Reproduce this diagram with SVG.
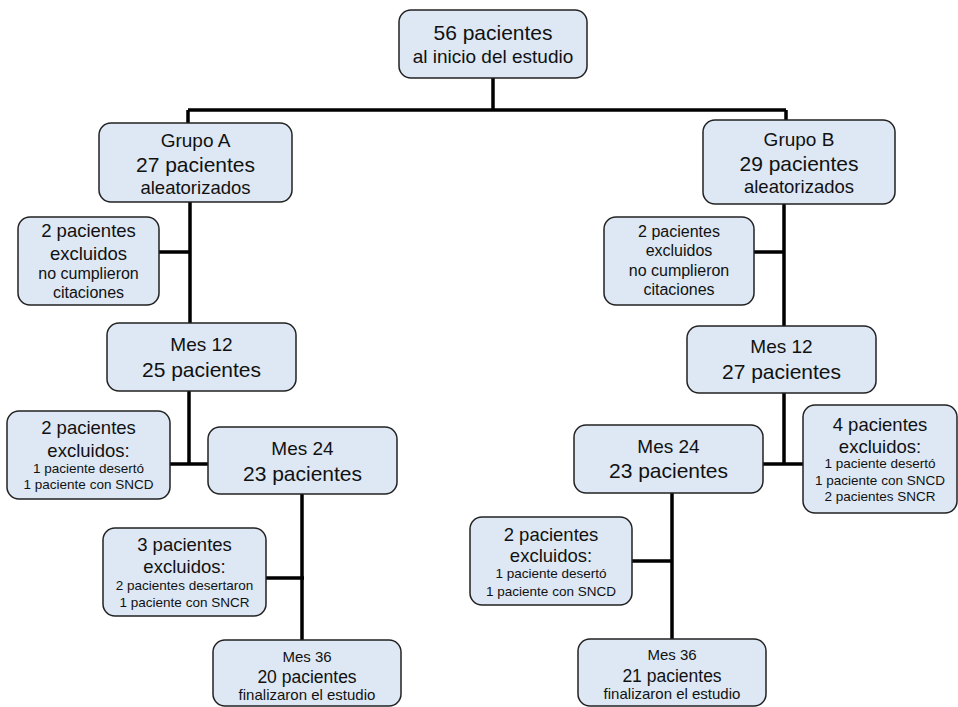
<svg xmlns="http://www.w3.org/2000/svg" width="958" height="707" viewBox="0 0 958 707">
<style>
.box{fill:#dde8f4;stroke:#222;stroke-width:1.5}
text{font-family:"Liberation Sans",Arial,Helvetica,sans-serif;fill:#111;text-anchor:middle}
.conn{stroke:#000;stroke-width:3.5;fill:none}
.f21{font-size:21px}.f19{font-size:19px}.f18{font-size:18.5px}.f17{font-size:17.5px}.f16{font-size:16px}.f15{font-size:15px}.f13{font-size:13.5px}
</style>
<rect width="958" height="707" fill="#fff"/>
<g id="connectors">
<path class="conn" d="M493 78V110M188 110H786M188 110V123M786 110V120"/>
<path class="conn" d="M190 202V323M159 252H190"/>
<path class="conn" d="M189 391V464M170 464H208"/>
<path class="conn" d="M302 494V640M266 578H304"/>
<path class="conn" d="M784 204V326M754 252H784"/>
<path class="conn" d="M784 393V464M763 464H803"/>
<path class="conn" d="M672 493V639M632 561H672"/>
</g>
<g id="n-inicio">
<rect class="box" x="399" y="10" width="188" height="68" rx="12"/>
<text class="f21" x="493" y="40">56 pacientes</text>
<text class="f19" x="493" y="63">al inicio del estudio</text>
</g>
<g id="n-grupoA">
<rect class="box" x="99" y="123" width="193" height="79" rx="12"/>
<text class="f19" x="195.5" y="147">Grupo A</text>
<text class="f21" x="195.5" y="172">27 pacientes</text>
<text class="f18" x="195.5" y="194">aleatorizados</text>
</g>
<g id="n-exclA1">
<rect class="box" x="18" y="217" width="141" height="88" rx="12"/>
<text class="f18" x="88.5" y="237">2 pacientes</text>
<text class="f18" x="88.5" y="260">excluidos</text>
<text class="f16" x="88.5" y="279">no cumplieron</text>
<text class="f16" x="88.5" y="298">citaciones</text>
</g>
<g id="n-mes12A">
<rect class="box" x="107" y="323" width="189" height="68" rx="12"/>
<text class="f19" x="201.5" y="351">Mes 12</text>
<text class="f21" x="201.5" y="377">25 pacientes</text>
</g>
<g id="n-exclA2">
<rect class="box" x="7" y="411" width="163" height="88" rx="12"/>
<text class="f18" x="88.5" y="434">2 pacientes</text>
<text class="f18" x="88.5" y="457">excluidos:</text>
<text class="f13" x="88.5" y="473">1 paciente desertó</text>
<text class="f13" x="88.5" y="489">1 paciente con SNCD</text>
</g>
<g id="n-mes24A">
<rect class="box" x="208" y="427" width="189" height="67" rx="12"/>
<text class="f19" x="302.5" y="455">Mes 24</text>
<text class="f21" x="302.5" y="481">23 pacientes</text>
</g>
<g id="n-exclA3">
<rect class="box" x="103" y="528" width="163" height="88" rx="12"/>
<text class="f18" x="184.5" y="551">3 pacientes</text>
<text class="f18" x="184.5" y="573">excluidos:</text>
<text class="f13" x="184.5" y="590">2 pacientes desertaron</text>
<text class="f13" x="184.5" y="607">1 paciente con SNCR</text>
</g>
<g id="n-mes36A">
<rect class="box" x="213" y="640" width="188" height="66" rx="12"/>
<text class="f15" x="307" y="662">Mes 36</text>
<text class="f17" x="307" y="683">20 pacientes</text>
<text class="f15" x="307" y="700">finalizaron el estudio</text>
</g>
<g id="n-grupoB">
<rect class="box" x="703" y="120" width="192" height="84" rx="12"/>
<text class="f19" x="799" y="146">Grupo B</text>
<text class="f21" x="799" y="171">29 pacientes</text>
<text class="f18" x="799" y="193">aleatorizados</text>
</g>
<g id="n-exclB1">
<rect class="box" x="604" y="217" width="150" height="88" rx="12"/>
<text class="f16" x="679" y="237">2 pacientes</text>
<text class="f16" x="679" y="256">excluidos</text>
<text class="f16" x="679" y="276">no cumplieron</text>
<text class="f16" x="679" y="295">citaciones</text>
</g>
<g id="n-mes12B">
<rect class="box" x="687" y="326" width="189" height="67" rx="12"/>
<text class="f19" x="781.5" y="353">Mes 12</text>
<text class="f21" x="781.5" y="379">27 pacientes</text>
</g>
<g id="n-mes24B">
<rect class="box" x="574" y="425" width="189" height="68" rx="12"/>
<text class="f19" x="668.5" y="453">Mes 24</text>
<text class="f21" x="668.5" y="478">23 pacientes</text>
</g>
<g id="n-exclB2">
<rect class="box" x="803" y="405" width="154" height="108" rx="12"/>
<text class="f18" x="880" y="431">4 pacientes</text>
<text class="f18" x="880" y="453">excluidos:</text>
<text class="f13" x="880" y="468">1 paciente desertó</text>
<text class="f13" x="880" y="485">1 paciente con SNCD</text>
<text class="f13" x="880" y="501">2 pacientes SNCR</text>
</g>
<g id="n-exclB3">
<rect class="box" x="470" y="517" width="162" height="88" rx="12"/>
<text class="f18" x="551" y="541">2 pacientes</text>
<text class="f18" x="551" y="562">excluidos:</text>
<text class="f13" x="551" y="578">1 paciente desertó</text>
<text class="f13" x="551" y="596">1 paciente con SNCD</text>
</g>
<g id="n-mes36B">
<rect class="box" x="578" y="639" width="188" height="67" rx="12"/>
<text class="f15" x="672" y="660">Mes 36</text>
<text class="f17" x="672" y="682">21 pacientes</text>
<text class="f15" x="672" y="699">finalizaron el estudio</text>
</g>
</svg>
